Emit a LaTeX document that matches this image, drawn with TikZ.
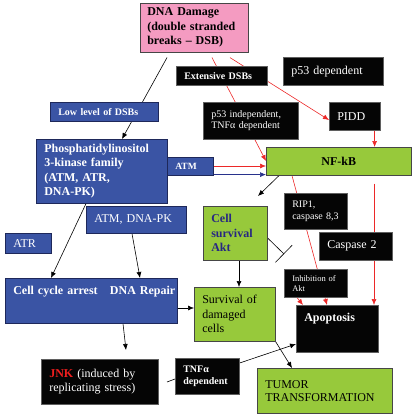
\documentclass[tikz,border=0pt]{standalone}
\usepackage{fontspec}
\setmainfont{Liberation Serif}
\usetikzlibrary{arrows.meta,backgrounds,calc}

\definecolor{pikblue}{RGB}{58,84,164}
\definecolor{blueline}{RGB}{30,40,90}
\definecolor{nfgreen}{RGB}{151,201,59}
\definecolor{greenline}{RGB}{70,70,70}
\definecolor{dsbpink}{RGB}{244,155,193}
\definecolor{boxblack}{RGB}{5,5,5}
\definecolor{blackline}{RGB}{95,95,95}
\definecolor{arrowred}{RGB}{236,40,40}
\definecolor{arrownavy}{RGB}{40,50,140}
\definecolor{aktnavy}{RGB}{40,40,130}
\definecolor{jnkred}{RGB}{240,30,30}

\tikzset{
  box/.style={draw, anchor=north west, inner xsep=8pt, inner ysep=0pt,
    align=left, line width=0.6pt, font=\fontsize{12}{14.5}\selectfont},
  bluebox/.style={box, fill=pikblue, draw=blueline, text=white},
  greenbox/.style={box, fill=nfgreen, draw=greenline},
  blackbox/.style={box, fill=boxblack, draw=blackline, text=white},
  pinkbox/.style={box, fill=dsbpink, draw=greenline},
  bf/.style={font=\fontsize{12}{14.5}\selectfont\bfseries},
  small/.style={font=\fontsize{10}{11.5}\selectfont},
  smallbf/.style={font=\fontsize{10}{12.5}\selectfont\bfseries},
  arr/.style={-{Latex[length=6pt,width=5pt]}, line width=0.6pt},
  redarr/.style={arr, draw=arrowred},
}

\begin{document}
\begin{tikzpicture}[x=1pt,y=1pt]
  \useasboundingbox (0,0) rectangle (413,-417);

  % boxes, placed by their upper left corner
  \node[pinkbox, bf, text width=94pt, inner xsep=7pt, minimum height=49pt] (dna) at (140,-3)
    {DNA Damage\\(double stranded\\breaks -- DSB)};
  \node[blackbox, smallbf, text width=75pt, minimum height=19pt] (ext) at (176,-66) {Extensive DSBs};
  \node[blackbox, text width=84pt, minimum height=28pt] (pdep) at (283,-57) {p53 dependent};
  \node[bluebox, smallbf, text width=92pt, minimum height=19pt] (low) at (50,-102) {Low level of DSBs};
  \node[blackbox, small, text width=79pt, minimum height=37pt] (pind) at (203,-102)
    {p53 independent,\\TNFα dependent};
  \node[blackbox, text width=35pt, minimum height=28pt] (pidd) at (329,-102) {PIDD};
  \node[bluebox, bf, text width=115pt, minimum height=64pt] (pik) at (36,-139)
    {Phosphatidylinositol\\3-kinase family\\(ATM, ATR,\\DNA-PK)};
  \node[bluebox, font=\fontsize{9.5}{11}\selectfont\bfseries, text width=30pt, minimum height=18pt] (atm) at (167,-157) {ATM};
  \node[greenbox, bf, align=center, text width=129pt, minimum height=28pt] (nfkb) at (266,-147) {NF-kB};
  \node[bluebox, text width=84pt, minimum height=27pt] (atmdna) at (86,-206) {ATM, DNA-PK};
  \node[bluebox, text width=30pt, minimum height=20pt] (atr) at (5,-233) {ATR};
  \node[greenbox, bf, text=aktnavy, text width=48pt, minimum height=54pt] (akt) at (203,-206)
    {Cell\\survival\\Akt};
  \node[blackbox, small, text width=47pt, minimum height=36pt] (rip) at (284,-193)
    {RIP1,\\caspase 8,3};
  \node[blackbox, text width=57pt, minimum height=28pt] (casp) at (319,-232) {Caspase 2};
  \node[blackbox, font=\fontsize{8.5}{9.5}\selectfont, text width=47pt, minimum height=28pt] (inh) at (284,-269)
    {Inhibition of\\Akt};
  \node[bluebox, bf, inner xsep=2pt, text width=168pt, minimum height=45pt,
    text height=14pt, text depth=27pt] (arrest) at (5,-278)
    {\hspace*{6pt}Cell cycle arrest\hfill DNA Repair};
  \node[greenbox, text width=65pt, minimum height=54pt] (surv) at (194,-287)
    {Survival of\\damaged\\cells};
  \node[blackbox, bf, text width=66pt, minimum height=47pt,
    text height=14pt, text depth=29pt] (apop) at (296,-305) {Apoptosis};
  \node[blackbox, text width=101pt, minimum height=45pt] (jnk) at (41,-359)
    {{\color{jnkred}\bfseries JNK} (induced by\\replicating stress)};
  \node[blackbox, smallbf, text width=48pt, minimum height=36pt] (tnf) at (175,-358)
    {TNFα\\dependent};
  \node[greenbox, font=\fontsize{12}{13}\selectfont, text width=119pt, minimum height=45pt] (tumor) at (257,-368)
    {TUMOR\\TRANSFORMATION};

  % free ends
  \coordinate (aktin) at (258,-196);
  \coordinate (aktbar) at (284,-254);
  \coordinate (jnkin) at (126,-350);
  \coordinate (tnfin) at (167,-382);

  % connectors, behind the boxes
  \begin{pgfonlayer}{background}
    \draw[arr] ([xshift=27pt,yshift=-5pt]dna.south west) -- ([xshift=86pt]pik.north west);
    \draw[redarr] ([xshift=72pt,yshift=-5pt]dna.south west) -- ([yshift=-14pt]nfkb.north west);
    \draw[redarr] ([xshift=90pt,yshift=-5pt]dna.south west) -- ([yshift=-18pt]pidd.north west);
    \draw[redarr] ([xshift=-6pt]pidd.south east) -- ($(pidd.south east |- nfkb.north)+(-6,0)$);
    \draw[redarr] ($(atm.north east)+(0,-9)$) -- ($(atm.north east -| nfkb.west)+(0,-9)$);
    \draw[arr, draw=arrownavy] ($(atm.south east)+(0,1)$) -- ($(atm.south east -| nfkb.west)+(0,1)$);
    \draw[redarr] ([xshift=26pt]nfkb.south west) -- ([xshift=31pt]apop.north west);
    \draw[redarr] ($(casp.south west |- nfkb.south)+(55,-8)$) -- ($(casp.south west |- apop.north)+(55,0)$);
    \draw[redarr] ([xshift=13pt]inh.south west) -- ([xshift=7pt]apop.north west);
    \draw[arr] ([xshift=13pt]nfkb.south west) -- (aktin);
    \draw[-{Bar[width=24pt]}, line width=0.6pt] ([yshift=-32pt]akt.north east) -- (aktbar);
    \draw[arr] ([xshift=36pt]akt.south west) -- ($(akt.south west |- surv.north)+(36,0)$);
    \draw[arr] ([xshift=50pt]pik.south west) -- ([xshift=46pt]arrest.north west);
    \draw[arr] ([xshift=46pt]atmdna.south west) -- ([xshift=135pt]arrest.north west);
    \draw[arr] ([yshift=-30pt]arrest.north east) -- ($(arrest.north east -| surv.west)+(0,-30)$);
    \draw[arr] ([xshift=118pt]arrest.south west) -- (jnkin);
    \draw[line width=0.6pt] (tnfin) -- ([yshift=-21pt]tnf.north west);
    \draw[arr] ([yshift=-5pt]tnf.north east) -- ([yshift=-39pt]apop.north west);
    \draw[arr] (surv.south east) -- ([xshift=35pt]tumor.north west);
  \end{pgfonlayer}
\end{tikzpicture}
\end{document}
